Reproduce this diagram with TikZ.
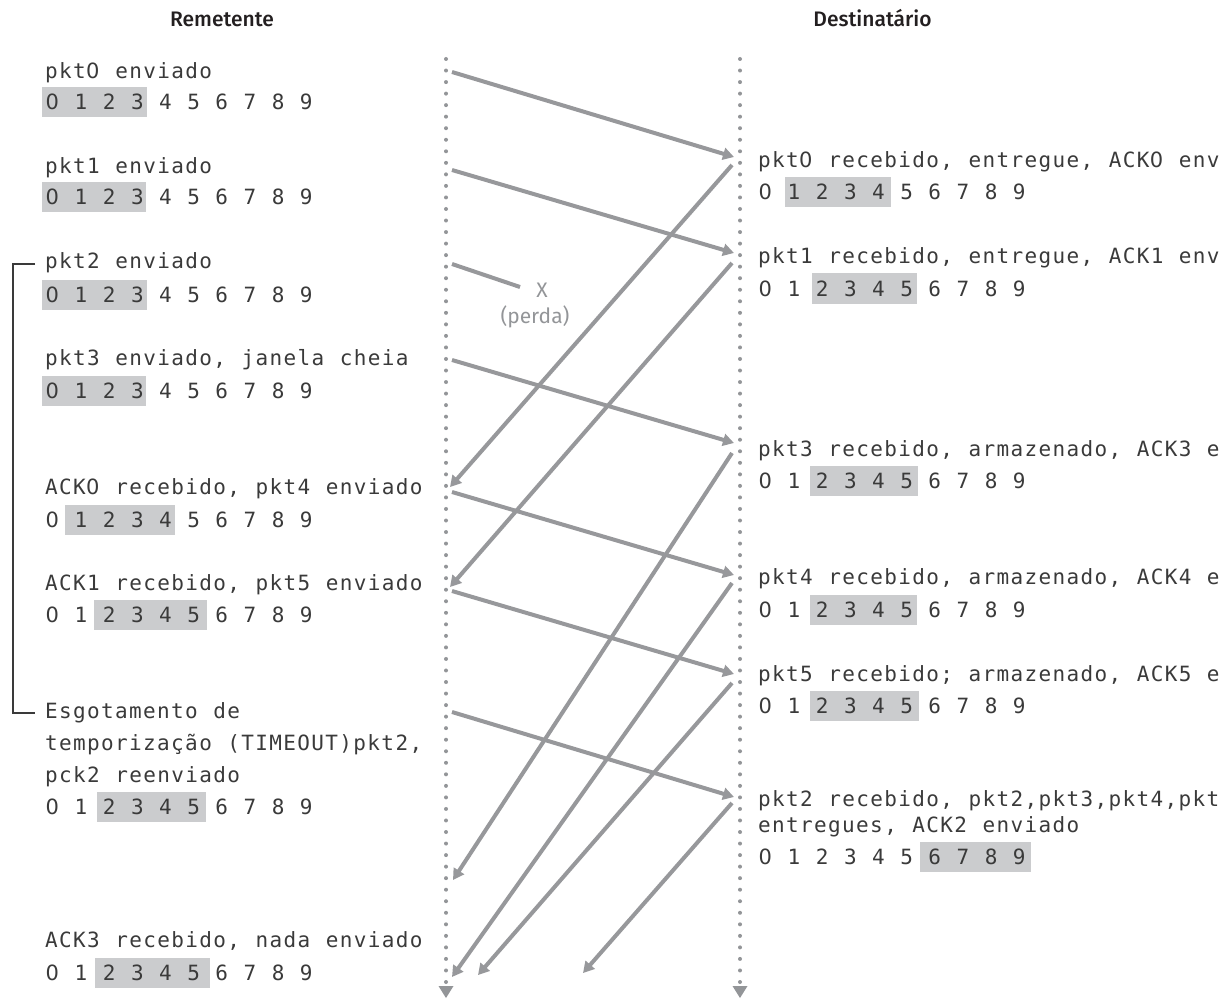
\documentclass[tikz,border=0pt]{standalone}
\usepackage{fontspec}
\usetikzlibrary{arrows.meta}
\newfontfamily\monof{DejaVu Sans Mono}[LetterSpace=6.5, WordSpace=1.1074]
\newfontfamily\zerof{DejaVu Sans}
\newfontfamily\titlef{Fira Sans}[UprightFont=* Medium]
\newfontfamily\lossf{Fira Sans}
\definecolor{txtc}{HTML}{3A3A3A}
\definecolor{titc}{HTML}{231F20}
\definecolor{hlc}{HTML}{CBCCCE}
\definecolor{dotc}{HTML}{939598}
\definecolor{arrc}{HTML}{97989B}
\definecolor{brkc}{HTML}{3A3A3A}
\newcommand{\hlrow}[3]{\fill[hlc] (#1,{#3-22.5}) rectangle (#2,{#3+7.5});}
\newcommand{\zz}{\makebox[14pt]{\zerof 0}}
\newcommand{\digs}{\zz{} 1 2 3 4 5 6 7 8 9}
\begin{document}
\begin{tikzpicture}[x=1pt,y=-1pt,
  mono/.style={anchor=base west, inner sep=0pt, font=\monof\fontsize{21}{24}\selectfont, text=txtc},
  title/.style={anchor=base, inner sep=0pt, font=\titlef\fontsize{21}{24}\selectfont, text=titc},
  losslbl/.style={anchor=center, inner sep=0pt, font=\lossf\fontsize{21}{24}\selectfont, text=dotc},
  dotl/.style={draw=dotc, line width=4pt, line cap=round, dash pattern=on 0pt off 11.5375pt},
  msg/.style={draw=arrc, line width=4pt, -{Triangle[length=11pt,width=12pt]}},
  lost/.style={draw=arrc, line width=4pt},
  brk/.style={draw=brkc, line width=1.2pt}]
\useasboundingbox (0,0) rectangle (1220,1000);
\clip (0,0) rectangle (1220,1000);
% titles
\node[title] (tS) at (222,27) {Remetente};
\node[title] (tR) at (872.5,27) {Destinatário};
% timelines
\coordinate (sTop) at (446,59);
\coordinate (sBot) at (446,982);
\coordinate (rTop) at (740,59);
\coordinate (rBot) at (740,982);
\draw[dotl] (sTop) -- (sBot);
\draw[dotl] (rTop) -- (rBot);
\fill[dotc] (438.5,986) -- (453.5,986) -- (446,998) -- cycle;
\fill[dotc] (732.5,986) -- (747.5,986) -- (740,998) -- cycle;
% highlight boxes (sender)
\hlrow{42}{147}{110}
\hlrow{42}{146}{205}
\hlrow{42}{147}{302}
\hlrow{42}{146}{398}
\hlrow{65}{175}{527}
\hlrow{94}{207}{622}
\hlrow{97}{206}{814}
\hlrow{95}{210}{980}
% highlight boxes (receiver)
\hlrow{785}{891}{200}
\hlrow{812}{917}{296}
\hlrow{810}{918}{488}
\hlrow{810}{917}{617}
\hlrow{810}{919}{713}
\hlrow{920}{1031}{864}
% sender texts
\node[mono] (l0) at (45,79) {pkt\zz{} enviado};
\node[mono] (l0d) at (45,110) {\digs};
\node[mono] (l1) at (45,174) {pkt1 enviado};
\node[mono] (l1d) at (45,205) {\digs};
\node[mono] (l2) at (45,269) {pkt2 enviado};
\node[mono] (l2d) at (45,302) {\digs};
\node[mono] (l3) at (45,365) {pkt3 enviado, janela cheia};
\node[mono] (l3d) at (45,398) {\digs};
\node[mono] (l4) at (45,494) {ACK\zz{} recebido, pkt4 enviado};
\node[mono] (l4d) at (45,527) {\digs};
\node[mono] (l5) at (45,590) {ACK1 recebido, pkt5 enviado};
\node[mono] (l5d) at (45,622) {\digs};
\node[mono] (l6a) at (45,718) {Esgotamento de};
\node[mono] (l6b) at (45,750) {temporização (TIMEOUT)pkt2,};
\node[mono] (l6c) at (45,782) {pck2 reenviado};
\node[mono] (l6d) at (45,814) {\digs};
\node[mono] (l7) at (45,947) {ACK3 recebido, nada enviado};
\node[mono] (l7d) at (45,980) {\digs};
% receiver texts
\node[mono] (r0) at (758,168) {pkt\zz{} recebido, entregue, ACK\zz{} enviado};
\node[mono] (r0d) at (758,200) {\digs};
\node[mono] (r1) at (758,264) {pkt1 recebido, entregue, ACK1 enviado};
\node[mono] (r1d) at (758,296) {\digs};
\node[mono] (r3) at (758,456) {pkt3 recebido, armazenado, ACK3 enviado};
\node[mono] (r3d) at (758,488) {\digs};
\node[mono] (r4) at (758,584) {pkt4 recebido, armazenado, ACK4 enviado};
\node[mono] (r4d) at (758,617) {\digs};
\node[mono] (r5) at (758,681) {pkt5 recebido; armazenado, ACK5 enviado};
\node[mono] (r5d) at (758,713) {\digs};
\node[mono] (r2a) at (758,806) {pkt2 recebido, pkt2,pkt3,pkt4,pkt5};
\node[mono] (r2b) at (758,832) {entregues, ACK2 enviado};
\node[mono] (r2d) at (758,864) {\digs};
% bracket
\draw[brk] ([xshift=-10pt,yshift=5pt]l2.base west) -- ++(-22,0)
  |- ([xshift=-10pt,yshift=5pt]l6a.base west);
% message endpoints
\coordinate (p0s) at (452,72);  \coordinate (p0r) at (734,157);
\coordinate (p1s) at (452,170); \coordinate (p1r) at (734,253);
\coordinate (p2s) at (452,264); \coordinate (p2x) at (520,287);
\coordinate (p3s) at (452,360); \coordinate (p3r) at (734,443);
\coordinate (p4s) at (452,492); \coordinate (p4r) at (734,575);
\coordinate (p5s) at (452,591); \coordinate (p5r) at (734,674);
\coordinate (q2s) at (452,712); \coordinate (q2r) at (734,797);
\coordinate (a0s) at (732,165); \coordinate (a0r) at (450,487);
\coordinate (a1s) at (732,263); \coordinate (a1r) at (450,587);
\coordinate (a3s) at (732,453); \coordinate (a3r) at (453,880);
\coordinate (a4s) at (732,583); \coordinate (a4r) at (452,977);
\coordinate (a5s) at (732,683); \coordinate (a5r) at (478,975);
\coordinate (a2s) at (732,803); \coordinate (a2r) at (583,973);
% data packets
\draw[msg] (p0s) -- (p0r);
\draw[msg] (p1s) -- (p1r);
\draw[lost] (p2s) -- (p2x);
\draw[msg] (p3s) -- (p3r);
\draw[msg] (p4s) -- (p4r);
\draw[msg] (p5s) -- (p5r);
\draw[msg] (q2s) -- (q2r);
% acks
\draw[msg] (a0s) -- (a0r);
\draw[msg] (a1s) -- (a1r);
\draw[msg] (a3s) -- (a3r);
\draw[msg] (a4s) -- (a4r);
\draw[msg] (a5s) -- (a5r);
\draw[msg] (a2s) -- (a2r);
% loss label
\node[losslbl] (lossX) at (542,290) {X};
\node[losslbl] (lossP) at (535,317) {(perda)};
\end{tikzpicture}
\end{document}
